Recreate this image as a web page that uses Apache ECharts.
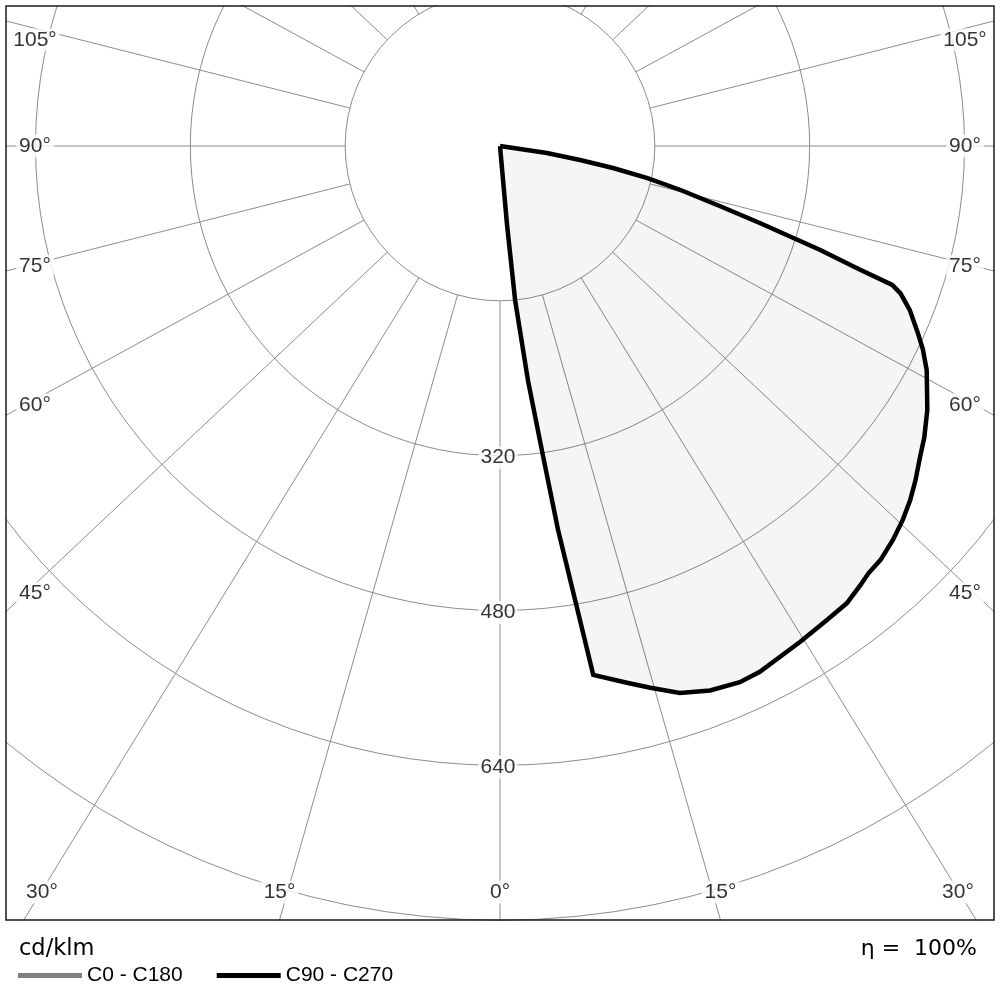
<!DOCTYPE html>
<html>
<head>
<meta charset="utf-8">
<script src="https://cdn.jsdelivr.net/npm/echarts@6/dist/echarts.min.js"></script>
<style>
  html, body { margin: 0; padding: 0; background: #fff; }
  #chart { width: 1000px; height: 1000px; }
</style>
</head>
<body>
<div id="chart"></div>
<script>
// C90 - C270 curve: gamma angle (deg, towards C90) and intensity (cd/klm)
const gammaC90 = [0, 5.1, 5.6, 6.8, 7.9, 8.6, 9.4, 10.0, 13.3, 15.5, 18.2, 21.1, 24.1, 26.3,
  31.2, 34.6, 37.2, 39.4, 40.8, 42.6, 44.9, 47.1, 49.2, 51.2, 53.5, 55.5, 58.3, 60.3, 62.3,
  64.3, 65.9, 68.2, 69.8, 70.5, 71.1, 72.0, 73.5, 74.7, 76.3, 77.7, 79.0, 80.1, 81.5, 90];
const intensityC90 = [0, 82, 160, 244, 323, 401, 476, 555, 570, 581, 595, 603, 607, 606,
  599, 595, 593, 587, 583, 581, 575, 568, 560, 551, 540, 532, 519, 508, 498,
  485, 473, 456, 441, 430, 390, 348, 280, 236, 192, 156, 119, 84, 49, 0];
// C0 - C180 has no visible curve in this diagram
const gammaC0 = [];
const intensityC0 = [];

const seriesNames = ['C0 - C180', 'C90 - C270'];
// nominal ray ticks and the angle at which each ray is drawn in the picture
const rayTicks  = [0, 15, 30, 45, 60, 75, 90, 105, 120, 135, 150, 165, 180];
const rayAngles = [0, 15.9, 31.6, 46.7, 61.4, 75.8, 90, 104.2, 118.6, 133.3, 148.4, 164.1, 180];
const labelledTicks = [0, 15, 30, 45, 60, 75, 90, 105];
const radiusTicks = [320, 480, 640];
const unitText = 'cd/klm';
const etaText = 'η =  100%';

// layout
const CX = 500, CY = 146;
const R_MIN = 160, R_MAX = 960;
const R_PX = 929;
const K = R_PX / R_MAX;           // px per cd/klm
const FRAME = { left: 6, top: 6, right: 994, bottom: 920 };
const SIDE_ANCHOR = 475;          // |dx| where side labels meet their ray
const SIDE_LABEL_X = 465;         // |dx| of side label centres
const BOTTOM_LABEL_Y = 892;
const LABEL_BOX = { left: 42, right: 958, top: 40 };
const FONT = "'Liberation Sans', Arial, sans-serif";
const WIDE_FONT = "'DejaVu Sans', sans-serif";

function toPolar(values, angles) {
  return values.map((v, i) => [v, angles[i]]);
}

const gridLine = { color: '#8c8c8c', width: 1 };
const hidden = { show: false };

// rays from the inner ring out to the edge, both sides
const raySeries = [];
rayTicks.forEach((t, i) => {
  const a = rayAngles[i];
  const sides = (a === 0 || a === 180) ? [a] : [a, 360 - a];
  sides.forEach(ang => raySeries.push({
    type: 'line', coordinateSystem: 'polar', polarIndex: 0,
    data: [[R_MIN, ang], [R_MAX, ang]],
    showSymbol: false, silent: true, z: 1,
    lineStyle: gridLine
  }));
});

// angle labels: anchored on their ray near the frame, nudged inside it
const angleLabelData = [];
labelledTicks.forEach(t => {
  const a = rayAngles[rayTicks.indexOf(t)];
  const rad = a * Math.PI / 180;
  const side = t >= 45;
  const rPx = side ? SIDE_ANCHOR / Math.sin(rad) : (FRAME.bottom - CY) / Math.cos(rad);
  const dx = rPx * Math.sin(rad);
  const y = CY + rPx * Math.cos(rad);
  let tx, ty;
  if (side) {
    tx = SIDE_LABEL_X;
    ty = Math.max(y, LABEL_BOX.top);
  } else {
    tx = Math.min(dx, LABEL_BOX.right - CX);
    ty = BOTTOM_LABEL_Y;
  }
  const offR = [tx - dx, ty - y];
  angleLabelData.push({ value: [rPx / K, a], name: t + '°', label: { offset: offR } });
  if (t !== 0) {
    angleLabelData.push({ value: [rPx / K, 360 - a], name: t + '°', label: { offset: [-offR[0], offR[1]] } });
  }
});
const radiusLabelData = radiusTicks.map(v => ({ value: [v, 0], name: String(v) }));

const chart = echarts.init(document.getElementById('chart'));
chart.setOption({
  animation: false,
  backgroundColor: '#fff',
  polar: [
    { center: [CX, CY], radius: [R_MIN * K, R_MAX * K] },
    { center: [CX, CY], radius: [0, R_MAX * K] }
  ],
  angleAxis: [0, 1].map(i => ({
    polarIndex: i, type: 'value', min: 0, max: 360, interval: 15,
    startAngle: 270, clockwise: false,
    axisLine: hidden, axisTick: hidden, axisLabel: hidden, splitLine: hidden
  })),
  radiusAxis: [
    {
      polarIndex: 0, type: 'value', min: R_MIN, max: R_MAX, interval: 160,
      axisLine: hidden, axisTick: hidden, axisLabel: hidden,
      splitLine: { show: true, lineStyle: gridLine }
    },
    {
      polarIndex: 1, type: 'value', min: 0, max: R_MAX, interval: 160,
      axisLine: hidden, axisTick: hidden, axisLabel: hidden, splitLine: hidden
    }
  ],
  legend: {
    data: seriesNames,
    left: 13, top: 960,
    icon: 'rect', itemWidth: 64, itemHeight: 5, itemGap: 34,
    selectedMode: false,
    textStyle: { fontSize: 21, color: '#000', fontFamily: FONT },
    z: 30
  },
  series: raySeries.concat([
    {
      name: seriesNames[0], type: 'line', coordinateSystem: 'polar', polarIndex: 1,
      data: toPolar(intensityC0, gammaC0),
      showSymbol: false, color: '#808080',
      lineStyle: { color: '#808080', width: 4.5 }
    },
    {
      name: seriesNames[1], type: 'line', coordinateSystem: 'polar', polarIndex: 1,
      data: toPolar(intensityC90, gammaC90),
      showSymbol: false, color: '#000', z: 3,
      itemStyle: { color: '#000' },
      lineStyle: { color: '#000', width: 4.5, join: 'miter' },
      areaStyle: { color: 'rgba(0,0,0,0.055)' }
    },
    {
      type: 'scatter', coordinateSystem: 'polar', polarIndex: 1,
      data: angleLabelData, symbolSize: 1, itemStyle: { color: 'rgba(0,0,0,0)' },
      silent: true, z: 5,
      label: {
        show: true, position: 'inside', formatter: '{b}',
        fontSize: 21, color: '#000', fontFamily: FONT,
        backgroundColor: '#fff', padding: [1, 3]
      }
    },
    {
      type: 'scatter', coordinateSystem: 'polar', polarIndex: 1,
      data: radiusLabelData, symbolSize: 1, itemStyle: { color: 'rgba(0,0,0,0)' },
      silent: true, z: 5,
      label: {
        show: true, position: 'inside', formatter: '{b}', offset: [-2, 2],
        fontSize: 21, color: '#000', fontFamily: FONT,
        backgroundColor: '#fff', padding: [1, 2]
      }
    }
  ]),
  graphic: [
    // white margins outside the frame
    { type: 'rect', z: 10, shape: { x: 0, y: FRAME.bottom + 1, width: 1000, height: 80 }, style: { fill: '#fff' } },
    { type: 'rect', z: 10, shape: { x: 0, y: 0, width: 1000, height: FRAME.top - 1 }, style: { fill: '#fff' } },
    { type: 'rect', z: 10, shape: { x: 0, y: 0, width: FRAME.left - 1, height: 1000 }, style: { fill: '#fff' } },
    { type: 'rect', z: 10, shape: { x: FRAME.right + 1, y: 0, width: 10, height: 1000 }, style: { fill: '#fff' } },
    { type: 'rect', z: 15,
      shape: { x: FRAME.left, y: FRAME.top, width: FRAME.right - FRAME.left, height: FRAME.bottom - FRAME.top },
      style: { fill: 'none', stroke: '#1a1a1a', lineWidth: 1.5 } },
    { type: 'text', z: 20, x: 19, y: 949,
      style: { text: unitText, font: '22.5px ' + WIDE_FONT, fill: '#000', align: 'left', verticalAlign: 'middle' } },
    { type: 'text', z: 20, x: 977, y: 949,
      style: { text: etaText, font: '22px ' + WIDE_FONT, fill: '#000', align: 'right', verticalAlign: 'middle' } }
  ]
});
</script>
</body>
</html>
